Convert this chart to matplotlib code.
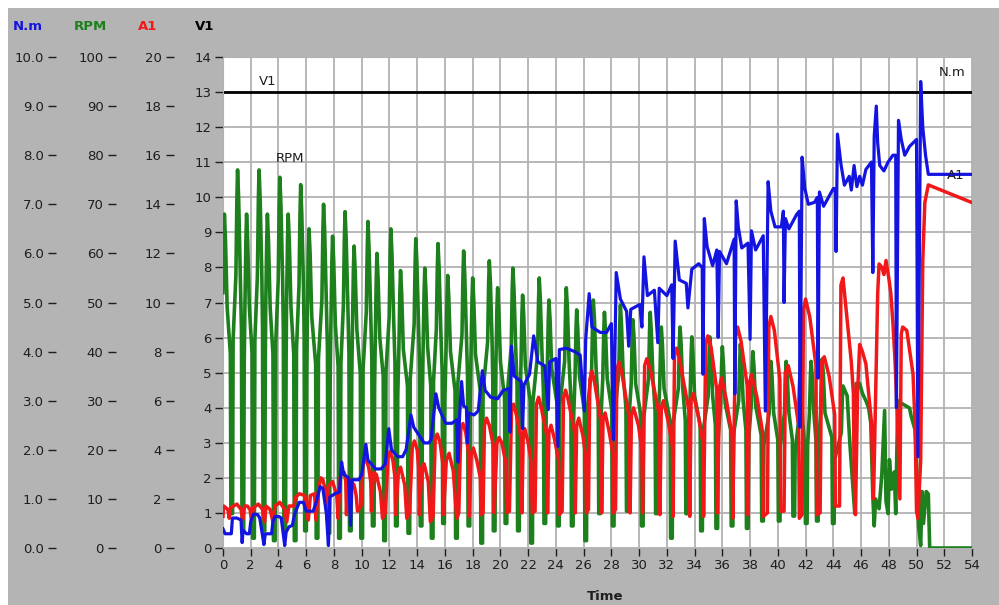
import matplotlib
matplotlib.use("Agg")
import matplotlib.pyplot as plt
from matplotlib.patches import Rectangle
from matplotlib.ticker import MultipleLocator, FormatStrFormatter

# ---- recorded channels (time in s) ----
v1_t = [0.0, 54.0]
v1 = [13.0, 13.0]

# RPM samples as (time, rpm), one row per stroke
rpm_pts = [
    (0.0, 52),
    (0.1, 68), (0.18, 62.5), (0.3, 49), (0.53, 39.5), (0.57, 7), (0.69, 7), (0.73, 42.5), (0.93, 55.5), (1.0, 71),
    (1.05, 77), (1.13, 71), (1.25, 55.5), (1.33, 44.5), (1.37, 3.5), (1.49, 3.5), (1.53, 37.5), (1.58, 49), (1.65, 62.5),
    (1.7, 68), (1.78, 62.5), (1.9, 49), (2.1, 39.5), (2.14, 2), (2.26, 2), (2.3, 42.5), (2.48, 55.5), (2.55, 71),
    (2.6, 77), (2.68, 71), (2.8, 55.5), (2.85, 44.5), (2.89, 3.5), (3.01, 3.5), (3.05, 37.5), (3.08, 49), (3.15, 62.5),
    (3.2, 68), (3.28, 62.5), (3.4, 49), (3.6, 39.5), (3.64, 1.5), (3.76, 1.5), (3.8, 41.5), (3.98, 54.5), (4.05, 69.5),
    (4.1, 75.5), (4.18, 69.5), (4.3, 54.5), (4.35, 44), (4.39, 3.5), (4.51, 3.5), (4.55, 37.5), (4.58, 49), (4.65, 62.5),
    (4.7, 68), (4.78, 62.5), (4.9, 49), (5.1, 39.5), (5.14, 1.5), (5.26, 1.5), (5.3, 40.5), (5.48, 53.5), (5.55, 68),
    (5.6, 74), (5.68, 68), (5.8, 53.5), (5.85, 43), (5.89, 3.5), (6.01, 3.5), (6.05, 36), (6.08, 47), (6.15, 60),
    (6.2, 65), (6.28, 60), (6.4, 47), (6.68, 37.5), (6.72, 2), (6.84, 2), (6.88, 38.5), (7.13, 50.5), (7.2, 64.5),
    (7.25, 70), (7.33, 64.5), (7.45, 50.5), (7.53, 40.5), (7.57, 3), (7.69, 3), (7.73, 35), (7.78, 45.5), (7.85, 58.5),
    (7.9, 63.5), (7.98, 58.5), (8.1, 45.5), (8.3, 37), (8.34, 2), (8.46, 2), (8.5, 37.5), (8.68, 49.5), (8.75, 63),
    (8.8, 68.5), (8.88, 63), (9.0, 49.5), (9.08, 39.5), (9.12, 3.5), (9.24, 3.5), (9.28, 34), (9.33, 44.5), (9.4, 56.5),
    (9.45, 61.5), (9.53, 56.5), (9.65, 44.5), (9.9, 35.5), (9.94, 2), (10.06, 2), (10.1, 36.5), (10.33, 48), (10.4, 61),
    (10.45, 66.5), (10.53, 61), (10.65, 48), (10.73, 38.5), (10.77, 4.5), (10.89, 4.5), (10.93, 33), (10.98, 43), (11.05, 55),
    (11.1, 60), (11.18, 55), (11.3, 43), (11.55, 35), (11.59, 1.5), (11.71, 1.5), (11.75, 36), (11.98, 47), (12.05, 60),
    (12.1, 65), (12.18, 60), (12.3, 47), (12.4, 37.5), (12.44, 4.5), (12.56, 4.5), (12.6, 31), (12.68, 40.5), (12.75, 52),
    (12.8, 56.5), (12.88, 52), (13.0, 40.5), (13.3, 33), (13.34, 3), (13.46, 3), (13.5, 34.5), (13.78, 45.5), (13.85, 58),
    (13.9, 63), (13.98, 58), (14.1, 45.5), (14.18, 36.5), (14.22, 4.5), (14.34, 4.5), (14.38, 31.5), (14.43, 41), (14.5, 52.5),
    (14.55, 57), (14.63, 52.5), (14.75, 41), (14.98, 33), (15.02, 2), (15.14, 2), (15.18, 34), (15.38, 44.5), (15.45, 57),
    (15.5, 62), (15.58, 57), (15.7, 44.5), (15.8, 36), (15.84, 5), (15.96, 5), (16.0, 30.5), (16.08, 40), (16.15, 51),
    (16.2, 55.5), (16.28, 51), (16.4, 40), (16.73, 32), (16.77, 2), (16.89, 2), (16.93, 33.5), (17.23, 43.5), (17.3, 55.5),
    (17.35, 60.5), (17.43, 55.5), (17.55, 43.5), (17.63, 35), (17.67, 4.5), (17.79, 4.5), (17.83, 30), (17.88, 39.5), (17.95, 50.5),
    (18.0, 55), (18.08, 50.5), (18.2, 39.5), (18.55, 32), (18.59, 1), (18.71, 1), (18.75, 32), (19.08, 42), (19.15, 54),
    (19.2, 58.5), (19.28, 54), (19.4, 42), (19.45, 34), (19.49, 3.5), (19.61, 3.5), (19.65, 29), (19.68, 38), (19.75, 49),
    (19.8, 53), (19.88, 49), (20.0, 38), (20.3, 30.5), (20.34, 5), (20.46, 5), (20.5, 31.5), (20.78, 41), (20.85, 52.5),
    (20.9, 57), (20.98, 52.5), (21.1, 41), (21.2, 33), (21.24, 3.5), (21.36, 3.5), (21.4, 28.5), (21.48, 37), (21.55, 47.5),
    (21.6, 51.5), (21.68, 47.5), (21.8, 37), (22.15, 30), (22.19, 1), (22.31, 1), (22.35, 30), (22.68, 39.5), (22.75, 50.5),
    (22.8, 55), (22.88, 50.5), (23.0, 39.5), (23.1, 32), (23.14, 5), (23.26, 5), (23.3, 28), (23.38, 36.5), (23.45, 46.5),
    (23.5, 50.5), (23.58, 46.5), (23.7, 36.5), (24.08, 29.5), (24.12, 4.5), (24.24, 4.5), (24.28, 29), (24.63, 38), (24.7, 49),
    (24.75, 53), (24.83, 49), (24.95, 38), (25.08, 30.5), (25.12, 4.5), (25.24, 4.5), (25.28, 26.5), (25.38, 35), (25.45, 44.5),
    (25.5, 48.5), (25.58, 44.5), (25.7, 35), (26.05, 28), (26.09, 1.5), (26.21, 1.5), (26.25, 28), (26.58, 36.5), (26.65, 46.5),
    (26.7, 50.5), (26.78, 46.5), (26.9, 36.5), (27.05, 29.5), (27.09, 7), (27.21, 7), (27.25, 26.5), (27.38, 34.5), (27.45, 44),
    (27.5, 48), (27.58, 44), (27.7, 34.5), (28.03, 28), (28.07, 4.5), (28.19, 4.5), (28.23, 27), (28.53, 35.5), (28.6, 45.5),
    (28.65, 49.5), (28.73, 45.5), (28.85, 35.5), (29.05, 28.5), (29.09, 7.5), (29.21, 7.5), (29.25, 25.5), (29.43, 33.5), (29.5, 43),
    (29.55, 46.5), (29.63, 43), (29.75, 33.5), (30.13, 27), (30.17, 4.5), (30.29, 4.5), (30.33, 26.5), (30.68, 34.5), (30.75, 44),
    (30.8, 48), (30.88, 44), (31.0, 34.5), (31.15, 28), (31.19, 7), (31.31, 7), (31.35, 25), (31.48, 32.5), (31.55, 41.5),
    (31.6, 45), (31.68, 41.5), (31.8, 32.5), (32.23, 26), (32.27, 2), (32.39, 2), (32.43, 25), (32.83, 32.5), (32.9, 41.5),
    (32.95, 45), (33.03, 41.5), (33.15, 32.5), (33.33, 26), (33.37, 7), (33.49, 7), (33.53, 23.5), (33.68, 31), (33.75, 39.5),
    (33.8, 43), (33.88, 39.5), (34.0, 31), (34.4, 25), (34.44, 3.5), (34.56, 3.5), (34.6, 23.5), (34.98, 31), (35.05, 39.5),
    (35.1, 43), (35.18, 39.5), (35.3, 31), (35.5, 25), (35.54, 4), (35.66, 4), (35.7, 22.5), (35.88, 29.5), (35.95, 37.5),
    (36.0, 41), (36.08, 37.5), (36.2, 29.5), (36.6, 24), (36.64, 4.5), (36.76, 4.5), (36.8, 23), (37.18, 30), (37.25, 38),
    (37.3, 41.5), (37.38, 38), (37.5, 30), (37.7, 24), (37.74, 4), (37.86, 4), (37.9, 22), (38.08, 29), (38.15, 37),
    (38.2, 40), (38.28, 37), (38.4, 29), (38.8, 23), (38.84, 5.5), (38.96, 5.5), (39.0, 21), (39.38, 27.5), (39.45, 35),
    (39.5, 38), (39.58, 35), (39.7, 27.5), (40.0, 22), (40.04, 5.5), (40.16, 5.5), (40.2, 21), (40.48, 27.5), (40.55, 35),
    (40.6, 38), (40.68, 35), (40.8, 27.5), (41.05, 22), (41.09, 6.5), (41.21, 6.5), (41.25, 19.5), (41.48, 25.5), (41.55, 32.5),
    (41.6, 35.5), (41.68, 32.5), (41.8, 25.5), (41.95, 20.5), (41.99, 5), (42.11, 5), (42.15, 21), (42.28, 27.5), (42.35, 35),
    (42.4, 38), (42.48, 35), (42.6, 27.5), (42.75, 22), (42.79, 5.5), (42.91, 5.5), (42.95, 21), (43.08, 27.5), (43.15, 35.5),
    (43.2, 38.5), (43.28, 35.5), (43.4, 27.5), (43.9, 22.5), (43.94, 5), (44.06, 5), (44.1, 18), (44.58, 23.5), (44.65, 30.5),
    (44.7, 33), (44.85, 32), (45.0, 31), (45.2, 21), (45.55, 7), (45.65, 33.5), (45.9, 33.5), (46.1, 31.5), (46.35, 30), (46.55, 28.5),
    (46.7, 25.5), (46.85, 10.5), (46.95, 4.5), (47.05, 10), (47.3, 8), (47.5, 15), (47.7, 28), (47.8, 9.5), (47.95, 7), (48.05, 18),
    (48.2, 12), (48.4, 15.5), (48.5, 7), (48.65, 30), (48.9, 29.5), (49.2, 29), (49.5, 28.5), (49.6, 27), (49.9, 24), (50.0, 18),
    (50.15, 4.5), (50.3, 0.5), (50.4, 11.5), (50.5, 5), (50.7, 11.5), (50.85, 11), (50.95, 0), (54.0, 0),
]

a1_t = [0.0, 0.05, 0.35, 0.45, 0.55, 1.0, 1.3, 1.42, 1.55, 1.75,
        1.95, 2.05, 2.2, 2.55, 2.85, 3.0, 3.1, 3.4, 3.6, 3.75,
        4.1, 4.45, 4.6, 4.75, 5.1, 5.25, 5.5, 5.9, 6.05, 6.15,
        6.3, 6.6, 6.7, 6.9, 7.05, 7.2, 7.4, 7.5, 7.6, 7.9,
        8.2, 8.3, 8.45, 8.6, 8.75, 8.85, 8.9, 9.0, 9.45, 9.6,
        9.7, 9.95, 10.1, 10.3, 10.5, 10.65, 10.7, 10.85, 11.05, 11.35,
        11.5, 11.7, 11.9, 12.05, 12.25, 12.4, 12.45, 12.65, 12.8, 13.1,
        13.25, 13.45, 13.65, 13.8, 14.0, 14.1, 14.15, 14.35, 14.5, 14.8,
        14.95, 15.15, 15.3, 15.45, 15.65, 15.85, 15.9, 16.1, 16.3, 16.6,
        16.85, 17.0, 17.15, 17.3, 17.5, 17.7, 17.75, 17.9, 18.05, 18.3,
        18.55, 18.6, 18.75, 18.85, 19.0, 19.2, 19.5, 19.55, 19.75, 19.9,
        20.1, 20.4, 20.45, 20.65, 20.8, 20.95, 21.15, 21.5, 21.55, 21.65,
        21.75, 22.0, 22.2, 22.3, 22.5, 22.6, 22.75, 22.95, 23.35, 23.4,
        23.5, 23.65, 23.9, 24.2, 24.25, 24.45, 24.55, 24.7, 24.9, 25.35,
        25.4, 25.5, 25.65, 25.95, 26.15, 26.2, 26.35, 26.45, 26.6, 26.8,
        27.25, 27.3, 27.4, 27.55, 27.85, 28.1, 28.15, 28.3, 28.4, 28.55,
        28.75, 29.3, 29.35, 29.45, 29.6, 29.95, 30.2, 30.25, 30.4, 30.55,
        30.8, 31.45, 31.5, 31.6, 31.75, 32.1, 32.4, 32.45, 32.55, 32.7,
        32.9, 33.6, 33.65, 33.75, 33.9, 34.3, 34.6, 34.65, 34.8, 34.95,
        35.2, 35.6, 35.65, 35.8, 35.95, 36.3, 36.7, 36.75, 36.95, 37.1,
        37.35, 37.8, 37.85, 37.95, 38.1, 38.5, 38.9, 38.95, 39.25, 39.35,
        39.5, 39.75, 40.15, 40.2, 40.45, 40.55, 40.75, 41.1, 41.5, 41.55,
        41.75, 41.85, 42.0, 42.3, 42.75, 42.8, 43.05, 43.15, 43.35, 43.7,
        44.1, 44.15, 44.45, 44.55, 44.7, 44.85, 45.0, 45.3, 45.45, 45.5,
        45.6, 45.75, 45.9, 46.1, 46.35, 46.55, 46.75, 46.9, 47.05, 47.2,
        47.3, 47.5, 47.65, 47.8, 48.0, 48.15, 48.3, 48.45, 48.6, 48.8,
        48.9, 49.0, 49.3, 49.55, 49.75, 49.9, 50.0, 50.1, 50.3, 50.45,
        50.6, 50.85, 54.0]
a1 = [1.29, 1.71, 1.57, 1.21, 1.64, 1.79, 1.57, 1.14, 1.71, 1.71,
      1.57, 1.14, 1.64, 1.79, 1.57, 1.07, 1.71, 1.57, 1.07, 1.71,
      1.86, 1.57, 1.07, 1.71, 1.71, 2.07, 2.21, 2.14, 1.71, 1.14,
      2.14, 2.21, 1.14, 2.43, 2.86, 2.79, 2.29, 1.14, 2.5, 2.71,
      2.14, 1.21, 2.86, 3.14, 3.07, 2.71, 1.36, 2.86, 2.57, 2.14,
      1.5, 1.71, 3.43, 3.64, 3.29, 2.71, 1.5, 3.07, 3.0, 2.29,
      1.21, 1.43, 3.71, 3.93, 3.57, 2.86, 1.36, 3.14, 3.29, 2.57,
      1.21, 1.43, 4.14, 4.36, 4.0, 3.29, 1.36, 3.29, 3.43, 2.71,
      1.07, 1.29, 4.43, 4.64, 4.29, 3.43, 1.36, 3.57, 3.86, 3.14,
      1.21, 1.43, 4.86, 5.07, 4.71, 3.86, 1.29, 3.86, 4.07, 3.57,
      2.86, 1.36, 1.43, 5.0, 5.29, 5.0, 4.14, 1.43, 4.29, 4.5,
      4.29, 3.43, 1.43, 1.5, 5.57, 5.86, 5.43, 4.43, 1.43, 4.71,
      4.86, 4.29, 3.57, 1.43, 1.5, 5.86, 6.14, 5.71, 4.57, 1.43,
      4.71, 5.0, 4.43, 3.57, 1.36, 1.5, 6.14, 6.43, 6.0, 4.71,
      1.43, 5.0, 5.29, 4.57, 3.71, 1.43, 1.57, 6.86, 7.21, 6.71,
      5.14, 1.43, 5.29, 5.5, 4.71, 3.86, 1.43, 1.57, 7.29, 7.57,
      7.14, 5.29, 1.43, 5.43, 5.71, 5.0, 4.0, 1.43, 7.43, 7.71,
      7.29, 5.43, 1.36, 5.71, 6.0, 5.14, 4.14, 1.29, 7.86, 8.14,
      7.71, 5.57, 1.29, 6.0, 6.29, 5.29, 4.29, 1.29, 8.29, 8.64,
      8.14, 6.43, 1.43, 6.57, 6.93, 6.0, 4.57, 1.21, 8.57, 9.0,
      8.43, 6.57, 1.36, 6.71, 7.07, 6.14, 4.71, 1.29, 1.43, 9.0,
      9.43, 8.86, 6.86, 1.5, 1.5, 7.14, 7.43, 6.57, 5.0, 1.21,
      1.36, 9.71, 10.14, 9.43, 7.43, 1.36, 1.43, 7.57, 7.79, 7.0,
      5.43, 1.71, 1.71, 10.71, 11.0, 10.14, 9.29, 7.57, 6.29, 2.86,
      1.36, 6.29, 8.29, 8.0, 7.5, 6.29, 5.14, 2.0, 6.29, 10.36,
      11.57, 11.43, 11.14, 11.71, 11.0, 10.36, 9.14, 7.64, 5.57, 2.0,
      8.71, 9.0, 8.86, 7.86, 7.07, 4.93, 1.5, 1.21, 3.57, 11.71,
      14.07, 14.79, 14.07]

nm_t = [0.0, 0.15, 0.6, 0.68, 1.0, 1.3, 1.38, 1.45, 1.7, 1.9,
        2.0, 2.2, 2.5, 2.65, 2.95, 3.05, 3.5, 3.6, 3.75, 4.05,
        4.2, 4.45, 4.55, 4.75, 5.0, 5.15, 5.5, 5.8, 6.0, 6.5,
        6.75, 7.0, 7.2, 7.45, 7.6, 7.7, 8.1, 8.4, 8.55, 8.7,
        9.05, 9.2, 9.3, 9.8, 10.0, 10.3, 10.45, 11.0, 11.4, 11.7,
        11.95, 12.15, 12.6, 12.95, 13.2, 13.55, 13.75, 14.5, 14.85, 15.0,
        15.35, 15.55, 16.05, 16.5, 16.85, 16.95, 17.05, 17.2, 17.35, 17.55,
        17.62, 17.7, 18.1, 18.4, 18.7, 18.9, 19.3, 19.8, 20.2, 20.65,
        20.7, 20.8, 21.0, 21.5, 21.6, 21.7, 22.1, 22.4, 22.7, 23.2,
        23.45, 23.55, 24.0, 24.15, 24.25, 24.75, 25.35, 25.75, 26.05, 26.15,
        26.4, 26.6, 27.2, 27.65, 28.0, 28.15, 28.35, 28.65, 29.1, 29.25,
        29.4, 30.05, 30.2, 30.35, 30.6, 31.1, 31.35, 31.45, 32.0, 32.35,
        32.45, 32.6, 32.9, 33.4, 33.52, 33.8, 34.3, 34.55, 34.6, 34.7,
        34.9, 35.3, 35.6, 35.7, 35.8, 36.3, 36.65, 36.85, 36.9, 37.0,
        37.15, 37.4, 37.85, 38.0, 38.1, 38.4, 38.95, 39.1, 39.3, 39.5,
        39.8, 40.25, 40.4, 40.45, 40.55, 40.8, 41.35, 41.55, 41.6, 41.75,
        41.95, 42.2, 42.65, 42.85, 42.9, 43.0, 43.3, 43.65, 44.0, 44.15,
        44.2, 44.3, 44.55, 44.8, 45.15, 45.3, 45.5, 45.7, 45.9, 46.1,
        46.35, 46.75, 46.85, 46.95, 47.1, 47.2, 47.35, 47.65, 47.95, 48.3,
        48.5, 48.55, 48.7, 48.9, 49.15, 49.5, 49.9, 50.0, 50.1, 50.3,
        50.45, 50.65, 50.85, 54.0]
nm = [0.39, 0.29, 0.29, 0.61, 0.61, 0.57, 0.11, 0.36, 0.29, 0.29,
      0.54, 0.69, 0.68, 0.61, 0.07, 0.29, 0.29, 0.54, 0.64, 0.64,
      0.61, 0.05, 0.32, 0.43, 0.46, 0.68, 0.93, 0.93, 0.75, 0.75,
      0.96, 1.25, 1.21, 0.71, 0.05, 1.04, 1.11, 1.14, 1.75, 1.5,
      1.43, 0.46, 1.39, 1.39, 1.5, 2.11, 1.79, 1.61, 1.61, 1.71,
      2.43, 2.0, 1.86, 1.86, 2.0, 2.71, 2.46, 2.14, 2.14, 2.21,
      3.14, 2.86, 2.54, 2.54, 2.61, 1.75, 2.64, 3.39, 2.89, 2.86,
      2.14, 2.75, 2.71, 2.79, 3.61, 3.21, 3.07, 3.04, 3.21, 3.25,
      2.36, 4.11, 3.5, 3.39, 2.43, 3.32, 3.54, 4.32, 3.79, 3.71,
      2.82, 3.79, 3.86, 2.07, 4.04, 4.07, 4.0, 3.93, 2.79, 4.25,
      5.18, 4.5, 4.39, 4.39, 4.57, 2.21, 5.61, 5.07, 4.82, 4.11,
      4.86, 4.96, 4.5, 5.93, 5.14, 5.25, 4.18, 5.29, 5.14, 5.36,
      3.86, 6.25, 5.46, 5.39, 4.89, 5.68, 5.79, 5.71, 3.54, 6.71,
      6.14, 5.75, 6.07, 4.29, 6.04, 5.79, 6.11, 6.29, 3.14, 7.07,
      6.54, 6.11, 6.21, 4.25, 6.46, 6.07, 6.36, 2.79, 7.46, 6.86,
      6.54, 6.54, 6.86, 5.0, 6.71, 6.5, 6.79, 6.86, 2.46, 7.96,
      7.32, 7.0, 7.04, 7.14, 3.46, 7.25, 6.96, 7.14, 7.32, 7.32,
      6.04, 8.43, 7.82, 7.39, 7.57, 7.29, 7.79, 7.36, 7.57, 7.39,
      7.71, 7.86, 5.61, 8.39, 9.0, 8.25, 7.79, 7.68, 7.86, 8.0,
      8.0, 2.86, 8.71, 8.32, 8.0, 8.18, 8.29, 8.32, 1.86, 9.5,
      8.57, 8.0, 7.61, 7.61]

rpm_t = [p[0] for p in rpm_pts]
rpm = [p[1] for p in rpm_pts]

# ---- styling ----
W, H = 999, 605
PANEL = "#b4b4b4"
GRID = "#b2b2b2"
INK = "#1e1e1e"
BLUE = "#1414e0"
GREEN = "#1d801d"
RED = "#f01818"
FS = 9.5

fig = plt.figure(figsize=(W / 100, H / 100), dpi=100, facecolor="white")
fig.add_artist(Rectangle((8 / W, 0), 1, 1 - 8 / H, transform=fig.transFigure,
                         facecolor=PANEL, edgecolor="none", zorder=-5))

px0, px1, py0, py1 = 223, 972, 57, 548
ax = fig.add_axes([px0 / W, 1 - py1 / H, (px1 - px0) / W, (py1 - py0) / H])
ax.set_facecolor("white")
ax.set_xlim(0, 54)
ax.set_ylim(0, 14)
ax.xaxis.set_major_locator(MultipleLocator(2))
ax.yaxis.set_major_locator(MultipleLocator(1))
ax.grid(True, color=GRID, lw=1.3)
ax.set_axisbelow(True)
for s in ax.spines.values():
    s.set_color(GRID)
ax.tick_params(direction="out", length=6, width=1.0, color=INK,
               labelsize=FS, labelcolor=INK, pad=2)


def side_scale(top, step, fmt, xpix):
    sa = ax.twinx()
    sa.set_ylim(0, top)
    sa.yaxis.set_major_locator(MultipleLocator(step))
    sa.yaxis.set_major_formatter(FormatStrFormatter(fmt))
    sa.yaxis.set_ticks_position("left")
    sa.spines["left"].set_position(("axes", (xpix - px0) / (px1 - px0)))
    for s in sa.spines.values():
        s.set_visible(False)
    sa.tick_params(direction="out", length=6, width=1.0, color=INK,
                   labelsize=FS, labelcolor=INK, pad=3)
    return sa


ax_rpm = side_scale(100, 10, "%d", 116)
ax_a1 = side_scale(20, 2, "%d", 174)
ax_nm = side_scale(10, 1, "%.1f", 56)

ax.plot(v1_t, v1, color="black", lw=2.0)
ax_rpm.plot(rpm_t, rpm, color=GREEN, lw=2.6)
ax_a1.plot(a1_t, a1, color=RED, lw=2.5)
ax_nm.plot(nm_t, nm, color=BLUE, lw=2.3)

# plot labels inside the chart
for x, y, s in [(3.25, 13.3, "V1"), (4.85, 11.1, "RPM"),
                (52.6, 13.55, "N.m"), (52.8, 10.62, "A1")]:
    ax_nm.text(x, y * 10 / 14, s, ha="center", va="center", fontsize=FS, color=INK)

# channel names above the scales
for x, s, c in [(28, "N.m", BLUE), (90, "RPM", GREEN), (148, "A1", RED), (205, "V1", "black")]:
    fig.text(x / W, 1 - 27 / H, s, ha="center", va="center", fontsize=FS,
             fontweight="bold", color=c)

fig.text(605 / W, 1 - 597 / H, "Time", ha="center", va="center",
         fontsize=FS, fontweight="bold", color=INK)

fig.savefig("out.png", dpi=100, facecolor=fig.get_facecolor())
